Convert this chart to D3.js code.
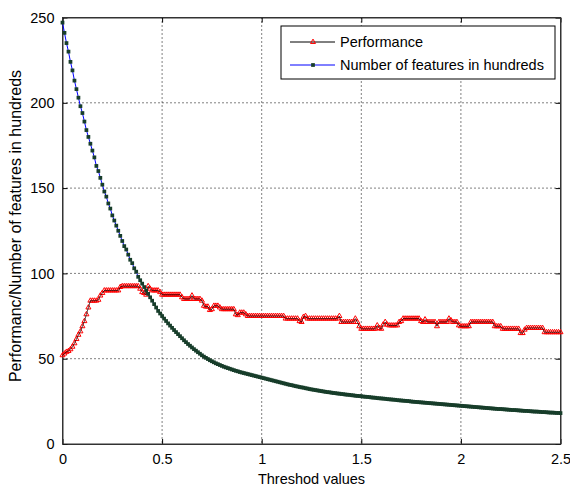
<!DOCTYPE html>
<html>
<head>
<meta charset="utf-8">
<script src="https://cdn.jsdelivr.net/npm/d3@7"></script>
<style>
  body { margin: 0; background: #fff; }
  svg { display: block; font-family: "Liberation Sans", Arial, sans-serif; }
</style>
</head>
<body>
<svg id="chart"></svg>
<script>
// threshold values: 0 .. 2.5 step 0.01
const thresholds = d3.range(0, 251).map(i => i / 100);

const performance = [
  52, 53, 54, 54.5, 55.5, 57, 59, 61.5, 64, 66,
  69, 72, 76, 80, 84, 84, 84, 84, 84.5, 87,
  88.5, 90, 90, 90, 90, 90, 90, 90, 90, 92,
  92.5, 92.5, 92.5, 92.5, 92.5, 92.5, 92.5, 92.5, 92.5, 91,
  89, 88.5, 87.5, 92.5, 91, 90, 90, 90, 90, 89,
  87.5, 87.5, 87.5, 87.5, 87.5, 87.5, 87.5, 87.5, 87.5, 87.5,
  86, 85, 85, 85, 85, 87, 85, 85, 85, 85,
  84, 81, 80.5, 80.5, 78.5, 79, 81, 81, 81, 80,
  79, 79, 79, 79, 79, 79, 79, 76, 75.5, 77,
  77, 77, 76, 75, 75, 75, 75, 75, 75, 75,
  75, 75, 75, 75, 75, 75, 75, 75, 75, 75,
  75, 75, 73.5, 73.5, 73.5, 73.5, 73.5, 73.5, 73.5, 72,
  71.5, 74.5, 75, 73.5, 73.5, 73.5, 73.5, 73.5, 73.5, 73.5,
  73.5, 73.5, 73.5, 73.5, 73.5, 73.5, 73.5, 73.5, 73.5, 75,
  71.5, 71.5, 71.5, 71.5, 71.5, 71.5, 71.5, 73.5, 71.5, 69,
  67.5, 67.5, 67.5, 67.5, 67.5, 67.5, 67.5, 67.5, 69.5, 68,
  67.5, 70, 71.5, 70, 69.5, 69.5, 69.5, 69.5, 69.5, 71.5,
  72, 73.5, 73.5, 73.5, 73.5, 73.5, 73.5, 73.5, 73.5, 73.5,
  72, 71.5, 73, 71.5, 71.5, 71.5, 71.5, 71.5, 69, 71.5,
  71.5, 71.5, 71.5, 71.5, 73.5, 72.5, 71.5, 71.5, 71.5, 69.5,
  69, 69, 69, 69, 69, 71.5, 71.5, 71.5, 71.5, 71.5,
  71.5, 71.5, 71.5, 71.5, 71.5, 71.5, 71.5, 69, 69, 69,
  69, 67.5, 67.5, 67.5, 67.5, 67.5, 67.5, 67.5, 67.5, 67.5,
  65, 65, 67, 68, 68, 68, 68, 68, 68, 68,
  68, 68, 65.5, 65.5, 65.5, 65.5, 65.5, 65.5, 65.5, 65.5,
  65.5
];

const features = [
  247, 241, 235, 230, 224, 219, 213, 208, 203, 198,
  194, 189, 184, 180, 176, 172, 168, 163, 160, 156,
  152, 148, 145, 141, 138, 134, 131, 128, 125, 122,
  119, 116, 114, 111, 108, 106, 103, 101, 98, 96,
  94, 92, 90, 88, 86, 84, 82, 80, 78, 76.5,
  75, 73.5, 72.1, 70.7, 69.4, 68.1, 66.8, 65.6, 64.4, 63.2,
  62, 60.8, 59.7, 58.6, 57.6, 56.6, 55.6, 54.7, 53.8, 52.9,
  52, 51.2, 50.5, 49.8, 49.1, 48.5, 47.9, 47.3, 46.8, 46.3,
  45.8, 45.3, 44.9, 44.5, 44.1, 43.7, 43.3, 42.9, 42.6, 42.2,
  41.9, 41.6, 41.3, 41, 40.7, 40.4, 40.1, 39.8, 39.5, 39.2,
  38.9, 38.6, 38.3, 38, 37.7, 37.4, 37.1, 36.8, 36.5, 36.2,
  35.9, 35.6, 35.3, 35, 34.7, 34.5, 34.2, 33.9, 33.7, 33.4,
  33.2, 33, 32.7, 32.5, 32.2, 32, 31.8, 31.6, 31.4, 31.2,
  31, 30.8, 30.6, 30.4, 30.3, 30.1, 29.9, 29.8, 29.6, 29.5,
  29.3, 29.2, 29, 28.9, 28.8, 28.6, 28.5, 28.3, 28.2, 28.1,
  28, 27.8, 27.7, 27.6, 27.5, 27.3, 27.2, 27.1, 26.9, 26.8,
  26.7, 26.6, 26.5, 26.3, 26.2, 26.1, 26, 25.9, 25.7, 25.6,
  25.5, 25.4, 25.3, 25.2, 25.1, 24.9, 24.8, 24.7, 24.6, 24.5,
  24.4, 24.3, 24.2, 24.1, 24, 23.9, 23.8, 23.7, 23.6, 23.5,
  23.4, 23.3, 23.2, 23.1, 23, 22.9, 22.8, 22.7, 22.6, 22.5,
  22.4, 22.3, 22.2, 22.1, 22, 21.9, 21.8, 21.7, 21.6, 21.5,
  21.4, 21.3, 21.2, 21.1, 21, 20.9, 20.8, 20.7, 20.6, 20.5,
  20.5, 20.4, 20.3, 20.2, 20.1, 20, 19.9, 19.9, 19.8, 19.7,
  19.6, 19.5, 19.4, 19.4, 19.3, 19.2, 19.1, 19, 19, 18.9,
  18.8, 18.7, 18.7, 18.6, 18.5, 18.4, 18.4, 18.3, 18.2, 18.2,
  18.1
];

const xTicks = [0, 0.5, 1, 1.5, 2, 2.5];
const yTicks = [0, 50, 100, 150, 200, 250];
const legendLabels = ["Performance", "Number of features in hundreds"];

const svgWidth = 570, svgHeight = 489;
const margin = { top: 17.5, right: 9.5, bottom: 45, left: 62.5 };
const width = svgWidth - margin.left - margin.right;
const height = svgHeight - margin.top - margin.bottom;

const svg = d3.select('#chart')
    .attr("width", svgWidth)
    .attr("height", svgHeight);

const g = svg.append("g")
    .attr("transform", "translate(" + margin.left + "," + margin.top + ")");

const x = d3.scaleLinear().domain([0, 2.5]).range([0, width]);
const y = d3.scaleLinear().domain([0, 250]).range([height, 0]);

// dotted grid
g.append("g")
    .selectAll("line")
    .data(xTicks.slice(1, -1))
    .join("line")
    .attr("x1", d => x(d)).attr("x2", d => x(d))
    .attr("y1", 0).attr("y2", height)
    .attr("stroke", "#000").attr("stroke-width", 1)
    .attr("stroke-dasharray", "1,3");

g.append("g")
    .selectAll("line")
    .data(yTicks.slice(1, -1))
    .join("line")
    .attr("x1", 0).attr("x2", width)
    .attr("y1", d => y(d)).attr("y2", d => y(d))
    .attr("stroke", "#000").attr("stroke-width", 1)
    .attr("stroke-dasharray", "1,3");

// axes with inward ticks
g.append("g")
    .attr("transform", "translate(0," + height + ")")
    .call(d3.axisBottom(x).tickValues(xTicks).tickSizeInner(-5).tickSizeOuter(0).tickPadding(10)
        .tickFormat(d3.format("")));
g.append("g")
    .call(d3.axisLeft(y).tickValues(yTicks).tickSizeInner(-5).tickSizeOuter(0).tickPadding(8));
g.append("g")
    .call(d3.axisTop(x).tickValues(xTicks).tickSizeInner(-5).tickSizeOuter(0).tickFormat(""));
g.append("g")
    .attr("transform", "translate(" + width + ",0)")
    .call(d3.axisRight(y).tickValues(yTicks).tickSizeInner(-5).tickSizeOuter(0).tickFormat(""));

g.selectAll(".domain").attr("stroke", "#333");
g.selectAll(".tick line").attr("stroke", "#000");
g.selectAll(".tick text").attr("font-size", 14.5).attr("fill", "#000")
    .attr("font-family", "Liberation Sans, Arial, sans-serif");

g.append("rect")
    .attr("width", width).attr("height", height)
    .attr("fill", "none").attr("stroke", "#333").attr("stroke-width", 1);

const perfData = thresholds.map((t, i) => ({ t: t, v: performance[i] }));
const featData = thresholds.map((t, i) => ({ t: t, v: features[i] }));

const line = d3.line()
    .x(d => x(d.t))
    .y(d => y(d.v));

const tri = d3.symbol().type(d3.symbolTriangle).size(11);
const sq = d3.symbol().type(d3.symbolSquare).size(14);

// performance: black line, red triangle markers
g.append("g")
    .selectAll("path")
    .data(perfData)
    .join("path")
    .attr("transform", d => "translate(" + x(d.t) + "," + y(d.v) + ")")
    .attr("d", tri)
    .attr("fill", "none")
    .attr("stroke", "#ff0000")
    .attr("stroke-width", 1);

g.append("path")
    .datum(perfData)
    .attr("fill", "none")
    .attr("stroke", "#000")
    .attr("stroke-width", 0.7)
    .attr("d", line);

// features: blue line, dark green square markers
g.append("path")
    .datum(featData)
    .attr("fill", "none")
    .attr("stroke", "#0000ff")
    .attr("stroke-width", 1)
    .attr("d", line);

g.append("g")
    .selectAll("path")
    .data(featData)
    .join("path")
    .attr("transform", d => "translate(" + x(d.t) + "," + y(d.v) + ")")
    .attr("d", sq)
    .attr("fill", "#173d2a");

// axis labels
svg.append("text")
    .attr("x", margin.left + width / 2)
    .attr("y", 484)
    .attr("text-anchor", "middle")
    .attr("font-size", 14.5)
    .text("Threshod values");

svg.append("text")
    .attr("transform", "translate(21,226) rotate(-90)")
    .attr("text-anchor", "middle")
    .attr("font-size", 16)
    .text("Performanc/Number of features in hundreds");

// legend
const legend = svg.append("g").attr("transform", "translate(281,26)");
legend.append("rect")
    .attr("width", 274).attr("height", 53)
    .attr("fill", "#fff").attr("stroke", "#000").attr("stroke-width", 1);

const rows = legend.selectAll("g.row")
    .data(legendLabels)
    .join("g")
    .attr("class", "row")
    .attr("transform", (d, i) => "translate(0," + (16 + i * 23) + ")");

rows.append("line")
    .attr("x1", 9).attr("x2", 54)
    .attr("stroke", (d, i) => i === 0 ? "#000" : "#0000ff")
    .attr("stroke-width", 1);

rows.append("path")
    .attr("transform", "translate(32,0)")
    .attr("d", (d, i) => i === 0 ? tri() : sq())
    .attr("fill", (d, i) => i === 0 ? "none" : "#173d2a")
    .attr("stroke", (d, i) => i === 0 ? "#ff0000" : "none");

rows.append("text")
    .attr("x", 59)
    .attr("y", 5)
    .attr("font-size", 14.5)
    .text(d => d);
</script>
</body>
</html>
